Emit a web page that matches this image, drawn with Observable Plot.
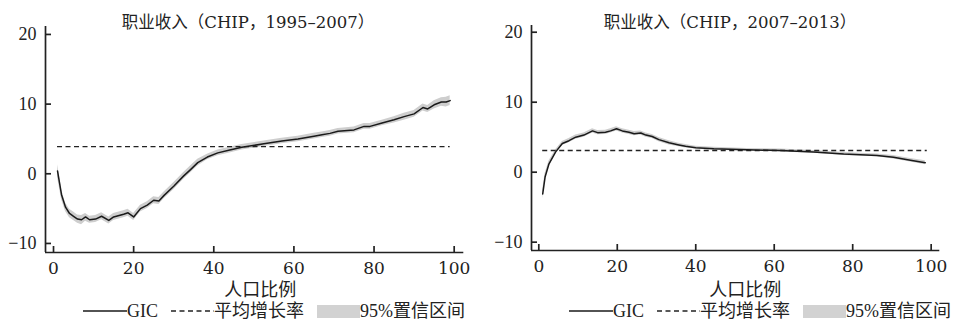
<!DOCTYPE html>
<html><head><meta charset="utf-8">
<script src="https://cdn.jsdelivr.net/npm/d3@7"></script>
<script src="https://cdn.jsdelivr.net/npm/@observablehq/plot@0.6"></script>
<style>
body{margin:0;background:#fff;}
#wrap{display:flex;width:960px;height:320px;overflow:hidden;}
.panel{width:480px;height:320px;position:relative;}
.title{height:22px;padding-top:12px;font:16.5px "DejaVu Serif","Noto Sans CJK SC",serif;line-height:22px;text-align:center;color:#222;white-space:nowrap;}
.panel svg.plot{display:block;margin-top:-12px;}
.legend{display:flex;align-items:center;height:18px;margin-top:2px;font:18px "Liberation Serif","Noto Sans CJK SC",serif;color:#222;white-space:nowrap;}
.legend span{display:inline-block;height:18px;line-height:18px;overflow:visible;}
.legend svg{display:inline-block;}
.legend span.box{width:43px;height:13px;background:#d2d2d2;}
.legend span.gap{width:13px;}
</style></head>
<body><div id="wrap"></div>
<script>
// ---- Panel A: CHIP 1995-2007 ----
const pctA = [1,2,3,4,5,6,7,8,9,10.5,12,13.8,15,17.5,18.6,20,21.7,23.4,25,26.3,27.6,30,32.5,34.2,36,38.4,41,44,47,52.5,57,61,65,67,69,71,75,77.5,79,82,85,87.5,90,91.7,92.2,93.4,95,96.8,98,99];
const gicA = [0.4,-3.0,-4.8,-5.7,-6.1,-6.5,-6.6,-6.2,-6.6,-6.5,-6.1,-6.7,-6.2,-5.8,-5.6,-6.2,-5.0,-4.5,-3.8,-3.9,-3.1,-1.8,-0.3,0.6,1.6,2.4,3.0,3.4,3.8,4.3,4.7,5.0,5.4,5.6,5.8,6.1,6.3,6.8,6.8,7.3,7.75,8.2,8.6,9.3,9.5,9.3,9.9,10.3,10.3,10.5];
const loA = [-0.5,-3.7,-5.4,-6.3,-6.7,-7.1,-7.3,-6.8,-7.1,-7.0,-6.6,-7.2,-6.7,-6.3,-6.1,-6.7,-5.5,-5.0,-4.3,-4.4,-3.6,-2.3,-0.8,0.1,1.1,2.0,2.6,3.0,3.4,3.9,4.3,4.6,5.0,5.2,5.4,5.7,5.9,6.4,6.4,6.9,7.3,7.7,8.1,8.8,9.0,8.8,9.3,9.7,9.6,9.8];
const hiA = [1.3,-2.3,-4.2,-5.1,-5.5,-5.9,-6.0,-5.7,-6.1,-6.0,-5.6,-6.2,-5.7,-5.3,-5.1,-5.7,-4.5,-4.0,-3.3,-3.4,-2.6,-1.3,0.2,1.1,2.1,2.8,3.4,3.8,4.2,4.7,5.1,5.4,5.8,6.0,6.2,6.5,6.7,7.2,7.2,7.7,8.2,8.7,9.1,9.8,10.0,9.8,10.5,10.9,11.0,11.2];
const meanA = 3.9;

// ---- Panel B: CHIP 2007-2013 ----
const pctB = [1,1.6,2.6,4.3,6,7.7,9.4,11.5,13.7,15,17,18.3,19.8,21.3,23,24.3,26,27.3,28.9,30.6,33.2,35.7,37.4,40,44.6,53,61.6,70,77.7,86.2,90.4,94.7,98.5];
const gicB = [-3.1,-0.7,1.2,2.9,4.1,4.5,5.0,5.3,5.9,5.65,5.7,5.9,6.2,5.9,5.7,5.5,5.6,5.3,5.1,4.65,4.2,3.9,3.7,3.5,3.35,3.2,3.1,2.9,2.6,2.4,2.15,1.7,1.35];
const loB = [-3.8,-1.2,0.8,2.6,3.8,4.2,4.7,5.0,5.6,5.35,5.4,5.6,5.9,5.6,5.4,5.2,5.3,5.0,4.8,4.35,3.9,3.65,3.45,3.3,3.15,3.0,2.9,2.7,2.4,2.2,1.9,1.45,1.05];
const hiB = [-2.5,-0.2,1.6,3.2,4.4,4.8,5.3,5.6,6.2,5.95,6.0,6.2,6.5,6.2,6.0,5.8,5.9,5.6,5.4,4.95,4.5,4.15,3.95,3.7,3.55,3.4,3.3,3.1,2.8,2.6,2.4,1.95,1.65];
const meanB = 3.1;

const meanSpan = [1, 99];
const xTicks = [0, 20, 40, 60, 80, 100];
const yTicks = [-10, 0, 10, 20];
const titles = ["职业收入（CHIP，1995–2007）", "职业收入（CHIP，2007–2013）"];
const xLabel = "人口比例";
const legendLabels = ["GIC", "平均增长率", "95%置信区间"];

const panels = [
  {pct: pctA, gic: gicA, lo: loA, hi: hiA, mean: meanA, title: titles[0],
   ml: 45, mr: 16.7, mt: 4, mb: 48, xd: [-2, 102.4], yd: [-11.3, 21.14], tpad: 16, lpad: 83, lab: 5.5, labDy: 43},
  {pct: pctB, gic: gicB, lo: loB, hi: hiB, mean: meanB, title: titles[1],
   ml: 51, mr: 20.7, mt: 3, mb: 50, xd: [-1.86, 102.2], yd: [-11.19, 20.96], tpad: 20, lpad: 89, lab: 9.5, labDy: 45}
];

const wrap = document.getElementById("wrap");
for (const cfg of panels) {
  const div = document.createElement("div");
  div.className = "panel";
  const t = document.createElement("div");
  t.className = "title";
  t.style.paddingLeft = cfg.tpad + "px";
  t.textContent = cfg.title;
  div.appendChild(t);

  const data = cfg.pct.map((p, i) => ({p, g: cfg.gic[i], lo: cfg.lo[i], hi: cfg.hi[i]}));
  const chart = Plot.plot({
    width: 480, height: 278,
    marginLeft: cfg.ml, marginRight: cfg.mr, marginTop: cfg.mt, marginBottom: cfg.mb,
    x: {domain: cfg.xd, label: null},
    y: {domain: cfg.yd, label: null},
    style: {fontFamily: "'Liberation Serif','Noto Sans CJK SC',serif", fontSize: "17px", color: "#222", background: "transparent", overflow: "visible"},
    marks: [
      Plot.areaY(data, {x: "p", y1: "lo", y2: "hi", fill: "#cecece"}),
      Plot.ruleY([cfg.mean], {x1: meanSpan[0], x2: meanSpan[1], stroke: "#222", strokeWidth: 1.4, strokeDasharray: "5,3.5"}),
      Plot.lineY(data, {x: "p", y: "g", stroke: "#1a1a1a", strokeWidth: 1.5}),
      Plot.ruleX([cfg.xd[0]], {stroke: "#222", strokeWidth: 1.7}),
      Plot.ruleY([cfg.yd[0]], {stroke: "#222", strokeWidth: 1.7}),
      Plot.axisX(xTicks, {tickSize: -6, tickPadding: 15, strokeWidth: 1.7, fontFamily: "DejaVu Serif", fontSize: 17, label: null}),
      Plot.axisY(yTicks, {tickSize: -6, tickPadding: 15, strokeWidth: 1.7, fontFamily: "Liberation Serif", fontSize: 18, label: null}),
      Plot.text([xLabel], {text: d => d, frameAnchor: "bottom", dy: cfg.labDy, dx: cfg.lab, fontSize: 18, fontFamily: "Noto Sans CJK SC"})
    ]
  });
  chart.classList.add("plot");
  div.appendChild(chart);

  const lg = document.createElement("div");
  lg.className = "legend";
  lg.style.paddingLeft = cfg.lpad + "px";
  lg.innerHTML =
    `<svg width="44" height="6"><line x1="0" x2="44" y1="3" y2="3" stroke="#1a1a1a" stroke-width="1.5"/></svg><span>${legendLabels[0]}</span><span class="gap"></span>` +
    `<svg width="43" height="6"><line x1="0" x2="43" y1="3" y2="3" stroke="#222" stroke-width="1.3" stroke-dasharray="5,3.5"/></svg><span>${legendLabels[1]}</span><span class="gap"></span>` +
    `<span class="box"></span><span>${legendLabels[2]}</span>`;
  div.appendChild(lg);
  wrap.appendChild(div);
}
</script></body></html>
